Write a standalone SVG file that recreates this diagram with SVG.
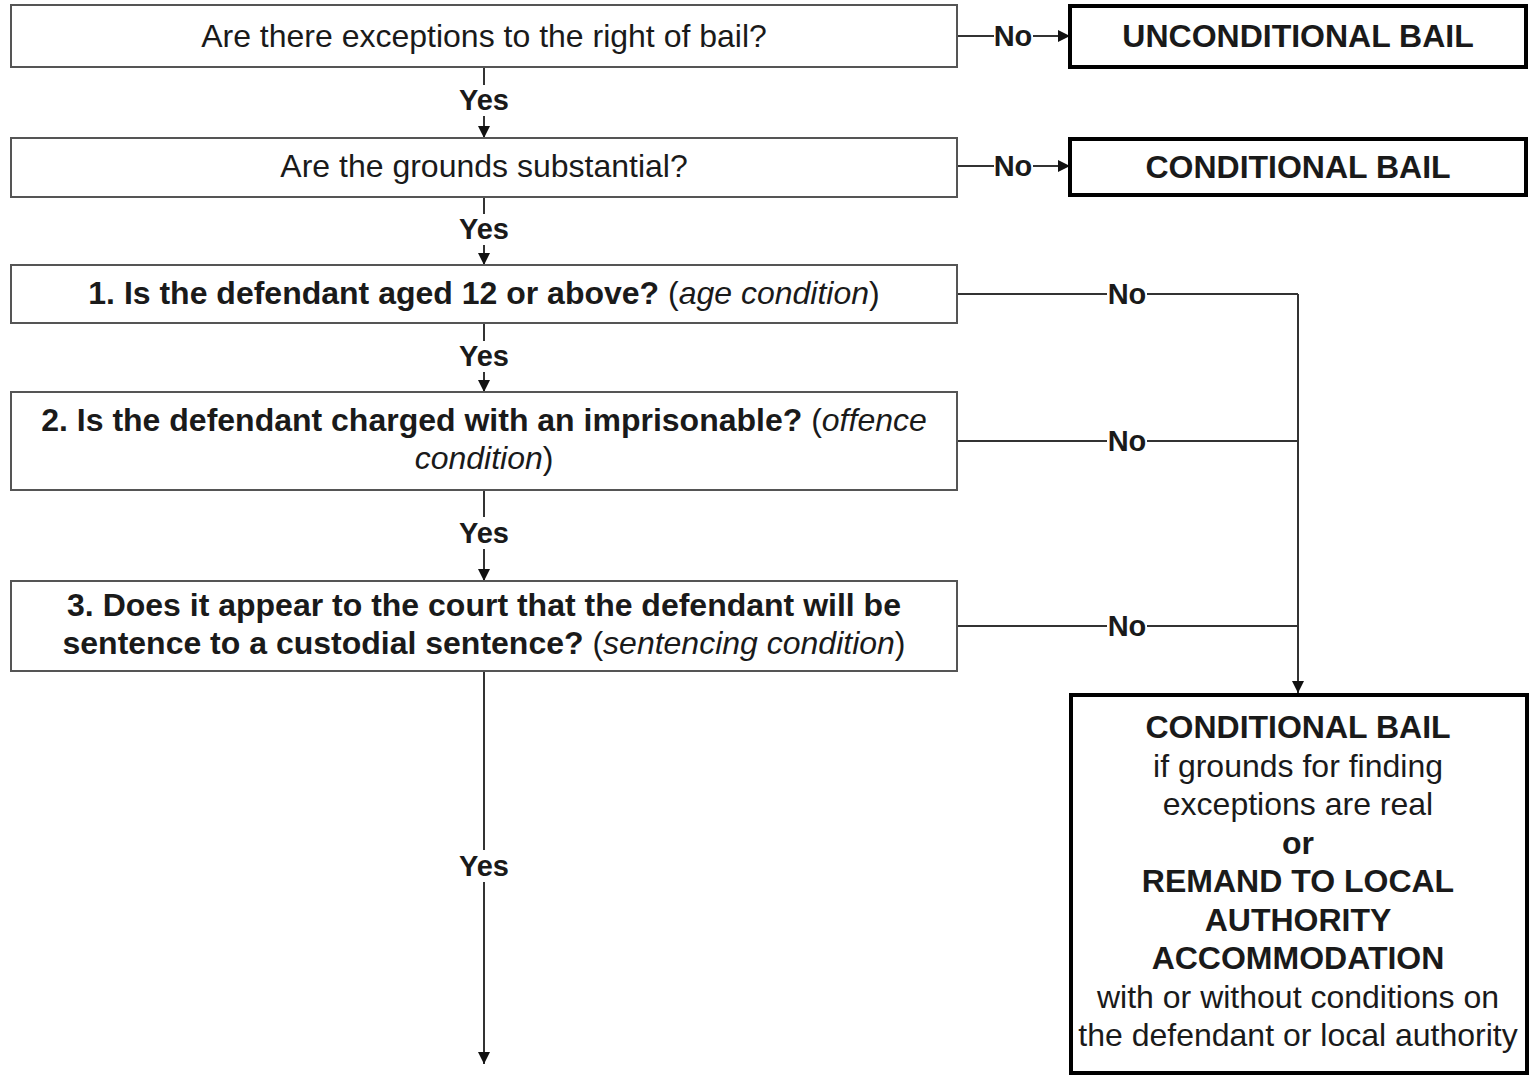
<svg xmlns="http://www.w3.org/2000/svg" width="1539" height="1081" viewBox="0 0 1539 1081">
<style>
.q{fill:#fff;stroke:#555;stroke-width:2}
.r{fill:#fff;stroke:#000;stroke-width:4}
text{font-family:"Liberation Sans",Arial,sans-serif;font-size:32px;fill:#1a1a1a;text-anchor:middle}
.b{font-weight:bold}
.i{font-style:italic;font-weight:normal}
.n{font-weight:normal}
.lbl{font-size:29px;font-weight:bold}
.c{fill:none;stroke:#333;stroke-width:2}
</style>
<defs>
<marker id="ah" markerUnits="userSpaceOnUse" markerWidth="13" markerHeight="12" refX="12" refY="6" orient="auto">
<path d="M0,0 L12,6 L0,12 z" fill="#111"/>
</marker>
</defs>
<rect width="1539" height="1081" fill="#fff"/>
<g id="connectors">
<path class="c" d="M484,67 V85"/>
<path class="c" d="M484,116 V138" marker-end="url(#ah)"/>
<path class="c" d="M484,197 V214"/>
<path class="c" d="M484,245 V265" marker-end="url(#ah)"/>
<path class="c" d="M484,323 V341"/>
<path class="c" d="M484,372 V392" marker-end="url(#ah)"/>
<path class="c" d="M484,490 V517"/>
<path class="c" d="M484,549 V581" marker-end="url(#ah)"/>
<path class="c" d="M484,671 V850"/>
<path class="c" d="M484,882 V1064" marker-end="url(#ah)"/>
<path class="c" d="M957,36 H994"/>
<path class="c" d="M1033,36 H1070" marker-end="url(#ah)"/>
<path class="c" d="M957,166 H994"/>
<path class="c" d="M1033,166 H1070" marker-end="url(#ah)"/>
<path class="c" d="M957,294 H1107"/>
<path class="c" d="M1147,294 H1298"/>
<path class="c" d="M957,441 H1107"/>
<path class="c" d="M1147,441 H1298"/>
<path class="c" d="M957,626 H1107"/>
<path class="c" d="M1147,626 H1298"/>
<path class="c" d="M1298,294 V693" marker-end="url(#ah)"/>
<text class="lbl" x="484" y="110">Yes</text>
<text class="lbl" x="484" y="239">Yes</text>
<text class="lbl" x="484" y="366">Yes</text>
<text class="lbl" x="484" y="543">Yes</text>
<text class="lbl" x="484" y="876">Yes</text>
<text class="lbl" x="1013" y="46">No</text>
<text class="lbl" x="1013" y="176">No</text>
<text class="lbl" x="1127" y="304">No</text>
<text class="lbl" x="1127" y="451">No</text>
<text class="lbl" x="1127" y="636">No</text>
</g>
<g id="q0">
<rect class="q" x="11" y="5" width="946" height="62"/>
<text x="484" y="47">Are there exceptions to the right of bail?</text>
</g>
<g id="q1">
<rect class="q" x="11" y="138" width="946" height="59"/>
<text x="484" y="177">Are the grounds substantial?</text>
</g>
<g id="q2">
<rect class="q" x="11" y="265" width="946" height="58"/>
<text x="484" y="304" class="b">1. Is the defendant aged 12 or above? <tspan class="n">(</tspan><tspan class="i">age condition</tspan><tspan class="n">)</tspan></text>
</g>
<g id="q3">
<rect class="q" x="11" y="392" width="946" height="98"/>
<text x="484" y="431" class="b">2. Is the defendant charged with an imprisonable? <tspan class="n">(</tspan><tspan class="i">offence</tspan></text>
<text x="484" y="469"><tspan class="i">condition</tspan>)</text>
</g>
<g id="q4">
<rect class="q" x="11" y="581" width="946" height="90"/>
<text x="484" y="616" class="b">3. Does it appear to the court that the defendant will be</text>
<text x="484" y="654" class="b">sentence to a custodial sentence? <tspan class="n">(</tspan><tspan class="i">sentencing condition</tspan><tspan class="n">)</tspan></text>
</g>
<g id="unconditional">
<rect class="r" x="1070" y="6" width="456" height="61"/>
<text x="1298" y="47" class="b">UNCONDITIONAL BAIL</text>
</g>
<g id="conditional">
<rect class="r" x="1070" y="139" width="456" height="56"/>
<text x="1298" y="178" class="b">CONDITIONAL BAIL</text>
</g>
<g id="outcome">
<rect class="r" x="1071" y="695" width="456" height="378"/>
<text x="1298" y="738" class="b">CONDITIONAL BAIL</text>
<text x="1298" y="776.5">if grounds for finding</text>
<text x="1298" y="815">exceptions are real</text>
<text x="1298" y="853.5" class="b">or</text>
<text x="1298" y="892" class="b">REMAND TO LOCAL</text>
<text x="1298" y="930.5" class="b">AUTHORITY</text>
<text x="1298" y="969" class="b">ACCOMMODATION</text>
<text x="1298" y="1007.5">with or without conditions on</text>
<text x="1298" y="1046">the defendant or local authority</text>
</g>
</svg>
